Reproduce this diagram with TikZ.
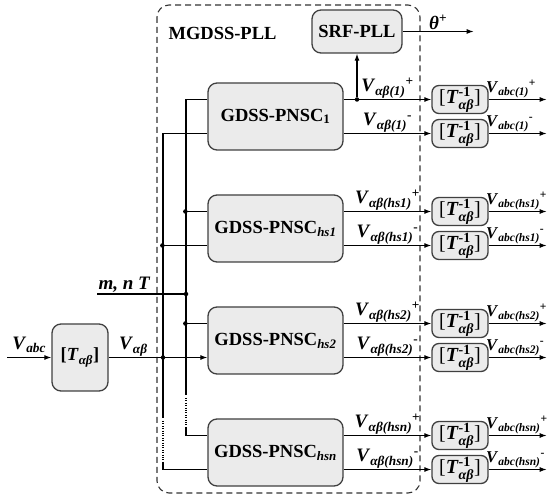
\documentclass[tikz,border=0pt]{standalone}
\usepackage{amsmath}
\usepackage{fontspec}
\setmainfont{Liberation Serif}
\usetikzlibrary{arrows.meta}

\newcommand{\bi}[1]{\textbf{\textit{#1}}}
\newcommand{\vab}[2]{$\bi{V}_{\bi{αβ(#1)}}{}^{\textbf{#2}}$}
\newcommand{\vabc}[2]{$\bi{V}_{\bi{abc(#1)}}{}^{\textbf{#2}}$}
\newcommand{\tinv}{[$\bi{T}_{\bi{αβ}}^{\textbf{-1}}$]}

\tikzset{
  blk/.style={draw=black!75, fill=black!8, rounded corners=9pt, line width=1.3pt,
    inner sep=0pt, font=\fontsize{18.5}{20}\selectfont\bfseries},
  tblk/.style={blk, rounded corners=7pt, minimum width=56pt, minimum height=28pt,
    font=\fontsize{20}{22}\selectfont},
  lab/.style={font=\fontsize{19}{21}\selectfont, inner sep=1pt},
  olab/.style={font=\fontsize{16.5}{18}\selectfont, inner sep=1pt, anchor=south west, xshift=-4pt},
  dot/.style={circle, fill=black, inner sep=0pt, minimum size=4.5pt},
}

\begin{document}
\begin{tikzpicture}[x=1pt, y=-1pt, line width=1.1pt, >={Latex[length=7pt,width=5pt]}]
\useasboundingbox (0,0) rectangle (547,497);

% frame of the PLL
\draw[black!80, dash pattern=on 6pt off 4pt, rounded corners=12pt] (157,5) rectangle (420,493);
\node[font=\fontsize{18.5}{20}\selectfont\bfseries, anchor=west, inner sep=0pt] (mg) at (168,33.5) {MGDSS-PLL};

% input transform
\node[blk, minimum width=56pt, minimum height=67pt] (tab) at (80,357.5) {[$\bi{T}_{\bi{αβ}}$]};
\coordinate (vin) at (7,357.5);
\draw[->] (vin) -- (tab.west) node[lab, midway, above, yshift=3pt] {$\bi{V}_{\bi{abc}}$};

% sequence components
\foreach \i/\yc/\bsub/\s in {1/116.5/\textbf{1}/1, 2/228.5/\bi{hs1}/hs1, 3/340.5/\bi{hs2}/hs2, 4/452.5/\bi{hsn}/hsn}{
  \node[blk, minimum width=135pt, minimum height=67pt] (g\i) at (275.5,\yc) {GDSS-PNSC$_{\bsub}$};
  \node[tblk] (tp\i) at (460,\yc-17) {\tinv};
  \node[tblk] (tm\i) at (460,\yc+17) {\tinv};
  \draw[->] (g\i.east |- tp\i) -- (tp\i.west) node[lab, midway, above] {\vab{\s}{+}};
  \draw[->] (g\i.east |- tm\i) -- (tm\i.west) node[lab, midway, above] {\vab{\s}{-}};
  \draw[->] (tp\i.east) -- ++(58,0);
  \draw[->] (tm\i.east) -- ++(58,0);
  \node[olab] at (tp\i.east) {\vabc{\s}{+}};
  \node[olab] at (tm\i.east) {\vabc{\s}{-}};
}

% PLL
\node[blk, minimum width=90pt, minimum height=43pt] (srf) at (357,31.5) {SRF-PLL};
\node[dot] (j1) at (srf.south |- tp1) {};
\draw[->] (j1) -- (srf.south);
\draw[->] (srf.east) -- ++(71,0) node[lab, midway, above] {$\bi{θ}^{\textbf{+}}$};

% V_alpha beta bus
\draw[->] (tab.east) -- ([yshift=-17pt]g3.west) node[lab, pos=0.25, above] {$\bi{V}_{\bi{αβ}}$};
\node[dot] at (163,357.5) {};
\draw ([yshift=-17pt]g1.west) -| (163,418);
\draw[dash pattern=on 1pt off 1.4pt] (163,421) -- (163,462);
\draw (163,462) |- ([yshift=-17pt]g4.west);
\draw ([yshift=-17pt]g2.west) -- ++(-45,0) node[dot] {};

% m, n T bus
\coordinate (mnt) at (97,294);
\draw ([yshift=17pt]g1.west) -| (186,395);
\draw[dash pattern=on 1pt off 1.4pt] (186,398) -- (186,428);
\draw (186,428) |- ([yshift=17pt]g4.west);
\draw ([yshift=17pt]g2.west) -- ++(-22,0) node[dot] {};
\draw ([yshift=17pt]g3.west) -- ++(-22,0) node[dot] {};
\draw (mnt) -- (186,294) node[dot] {};
\node[lab, anchor=south west] at (mnt) {\bi{m, n T}};
\end{tikzpicture}
\end{document}
